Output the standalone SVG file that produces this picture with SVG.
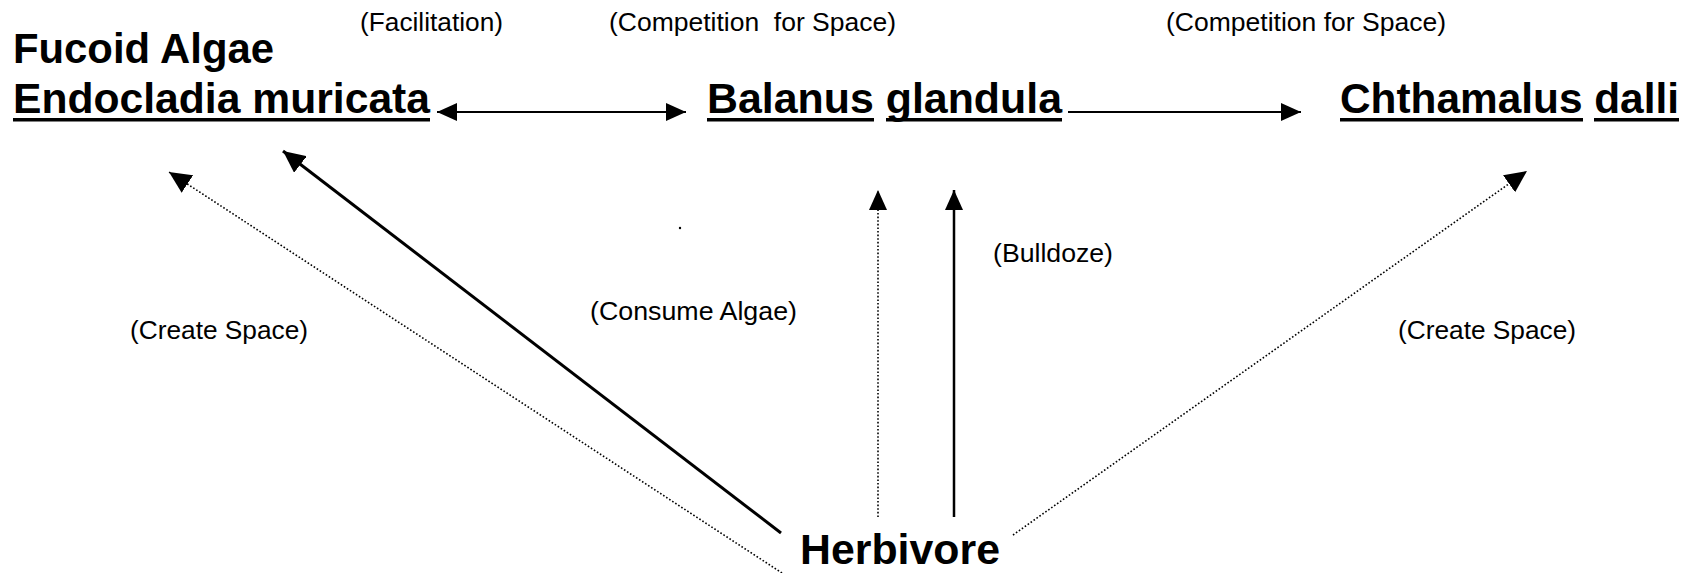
<svg xmlns="http://www.w3.org/2000/svg" width="1697" height="573" viewBox="0 0 1697 573">
<defs>
<style>
.big{font-family:"Liberation Sans",Arial,sans-serif;font-weight:bold;font-size:42px;fill:#000}
.small{font-family:"Liberation Sans",Arial,sans-serif;font-size:26px;fill:#000;white-space:pre}
.ul{fill:#000}
.solid{stroke:#000;fill:none}
.dot{stroke:#000;fill:none;stroke-width:1.6;stroke-dasharray:1.6 2}
</style>
<marker id="ah" viewBox="0 0 20 18" refX="20" refY="9" markerWidth="20" markerHeight="18" markerUnits="userSpaceOnUse" orient="auto-start-reverse">
<path d="M0,0 L20,9 L0,18 z" fill="#000"/>
</marker>
<marker id="ahb" viewBox="0 0 22 21" refX="22" refY="10.5" markerWidth="22" markerHeight="21" markerUnits="userSpaceOnUse" orient="auto">
<path d="M0,0 L22,10.5 L0,21 z" fill="#000"/>
</marker>
</defs>
<rect width="1697" height="573" fill="#fff"/>

<g id="connectors">
<line class="solid" x1="437" y1="112" x2="686" y2="112" stroke-width="2.2" marker-start="url(#ah)" marker-end="url(#ah)"/>
<line class="solid" x1="1068" y1="112" x2="1301" y2="112" stroke-width="2.2" marker-end="url(#ah)"/>
<line class="dot" x1="782" y1="573" x2="169" y2="172" marker-end="url(#ahb)"/>
<line class="solid" x1="781" y1="533" x2="283" y2="151" stroke-width="3" marker-end="url(#ahb)"/>
<line class="dot" x1="878" y1="517" x2="878" y2="190" marker-end="url(#ah)"/>
<line class="solid" x1="954" y1="517" x2="954" y2="190" stroke-width="2.5" marker-end="url(#ah)"/>
<line class="dot" x1="1013" y1="535" x2="1527" y2="171" marker-end="url(#ahb)"/>
</g>

<g id="labels">
<text class="small" x="360" y="31" textLength="143" lengthAdjust="spacingAndGlyphs">(Facilitation)</text>
<text class="small" x="609" y="31" textLength="287" lengthAdjust="spacingAndGlyphs">(Competition  for Space)</text>
<text class="small" x="1166" y="31" textLength="280" lengthAdjust="spacingAndGlyphs">(Competition for Space)</text>
<text class="small" x="130" y="339" textLength="178" lengthAdjust="spacingAndGlyphs">(Create Space)</text>
<text class="small" x="590" y="320" textLength="207" lengthAdjust="spacingAndGlyphs">(Consume Algae)</text>
<text class="small" x="993" y="262" textLength="120" lengthAdjust="spacingAndGlyphs">(Bulldoze)</text>
<text class="small" x="1398" y="339" textLength="178" lengthAdjust="spacingAndGlyphs">(Create Space)</text>
</g>

<g id="node-algae">
<text class="big" x="13" y="63" textLength="261" lengthAdjust="spacingAndGlyphs">Fucoid Algae</text>
<text class="big" x="13" y="113" textLength="417" lengthAdjust="spacingAndGlyphs">Endocladia muricata</text>
<rect class="ul" x="13" y="118" width="417" height="3.5"/>
</g>

<g id="node-balanus">
<text class="big" x="707" y="113" textLength="355" lengthAdjust="spacingAndGlyphs">Balanus glandula</text>
<rect class="ul" x="707" y="118" width="167" height="3.5"/>
<rect class="ul" x="886" y="118" width="176" height="3.5"/>
</g>

<g id="node-chthamalus">
<text class="big" x="1340" y="113" textLength="339" lengthAdjust="spacingAndGlyphs">Chthamalus dalli</text>
<rect class="ul" x="1340" y="118" width="243" height="3.5"/>
<rect class="ul" x="1594" y="118" width="85" height="3.5"/>
</g>

<g id="node-herbivore">
<text class="big" x="800" y="564" textLength="200" lengthAdjust="spacingAndGlyphs">Herbivore</text>
</g>

<circle cx="680" cy="228" r="1.2" fill="#000"/>
</svg>
